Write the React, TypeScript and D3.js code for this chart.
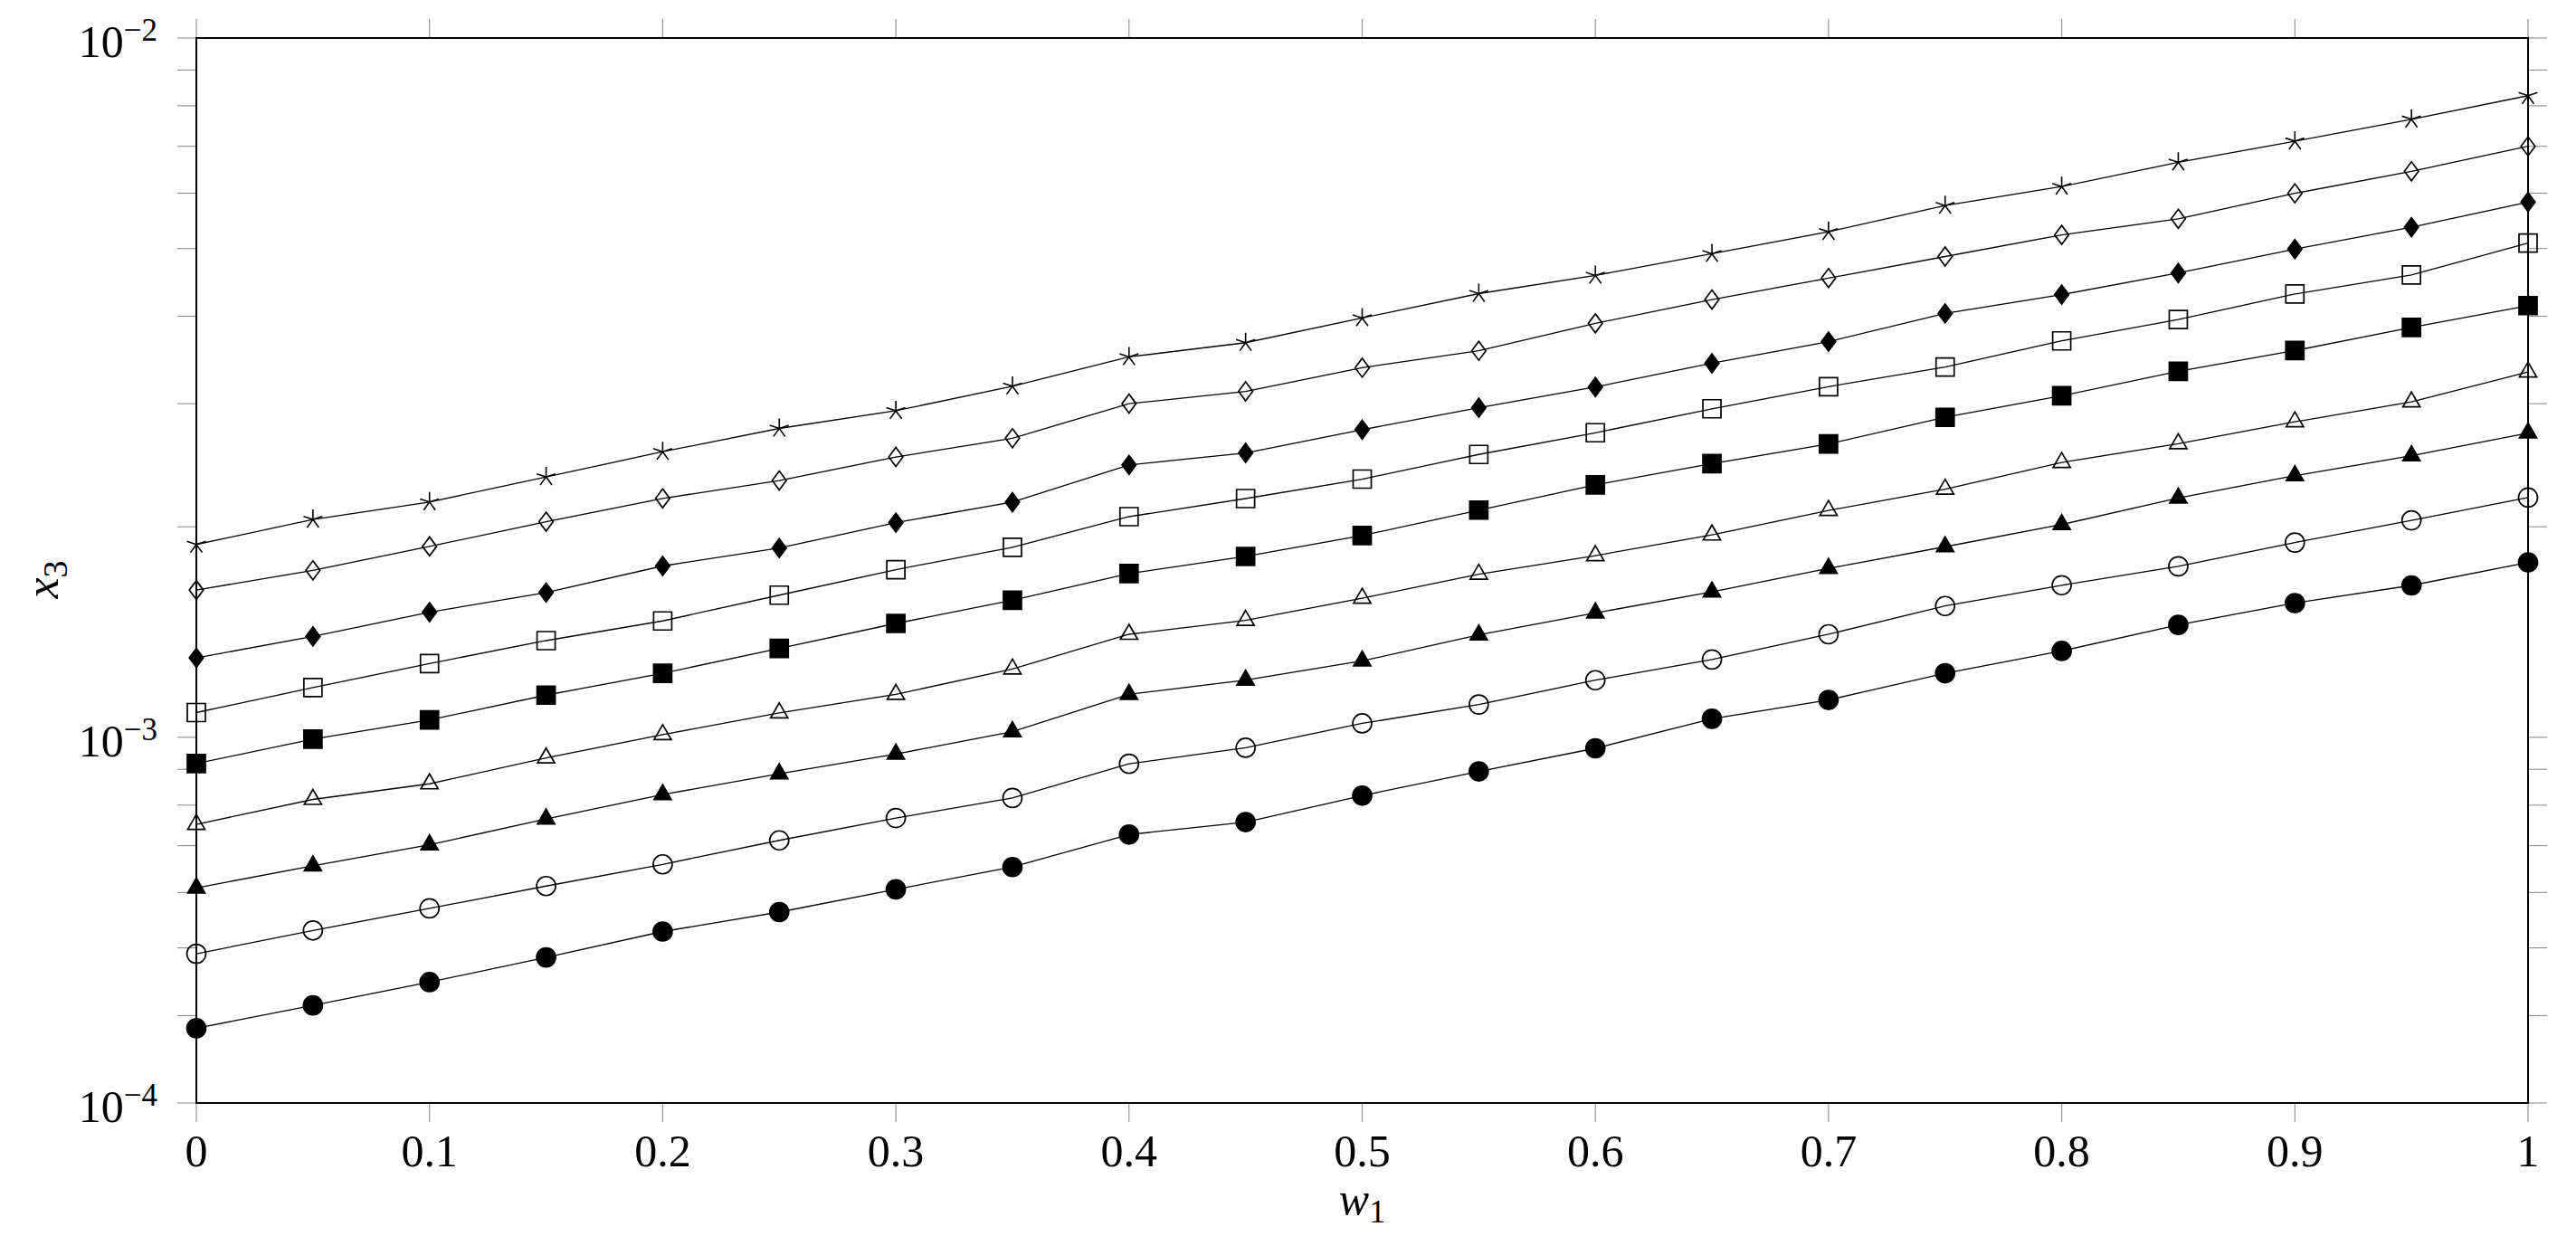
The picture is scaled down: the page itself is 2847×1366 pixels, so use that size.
import React from "react";
import * as d3 from "d3";

// w1 sample points (x axis)
const w1 = [0, 0.05, 0.1, 0.15, 0.2, 0.25, 0.3, 0.35, 0.4, 0.45, 0.5, 0.55, 0.6, 0.65, 0.7, 0.75, 0.8, 0.85, 0.9, 0.95, 1];

// x3 values per curve (top curve first)
const starVals = [1.887e-3, 2.049e-3, 2.17e-3, 2.357e-3, 2.561e-3, 2.765e-3, 2.931e-3, 3.177e-3, 3.499e-3, 3.667e-3, 3.978e-3, 4.31e-3, 4.576e-3, 4.914e-3, 5.284e-3, 5.759e-3, 6.132e-3, 6.643e-3, 7.12e-3, 7.653e-3, 8.27e-3];
const diamondVals = [1.624e-3, 1.733e-3, 1.875e-3, 2.034e-3, 2.196e-3, 2.329e-3, 2.517e-3, 2.677e-3, 3.0e-3, 3.124e-3, 3.377e-3, 3.571e-3, 3.908e-3, 4.226e-3, 4.536e-3, 4.87e-3, 5.229e-3, 5.514e-3, 5.996e-3, 6.447e-3, 7.001e-3];
const diamondFillVals = [1.299e-3, 1.394e-3, 1.51e-3, 1.611e-3, 1.758e-3, 1.865e-3, 2.028e-3, 2.169e-3, 2.452e-3, 2.551e-3, 2.754e-3, 2.96e-3, 3.169e-3, 3.427e-3, 3.68e-3, 4.038e-3, 4.296e-3, 4.613e-3, 4.991e-3, 5.364e-3, 5.827e-3];
const squareVals = [1.085e-3, 1.178e-3, 1.275e-3, 1.375e-3, 1.467e-3, 1.597e-3, 1.737e-3, 1.87e-3, 2.068e-3, 2.195e-3, 2.34e-3, 2.538e-3, 2.726e-3, 2.95e-3, 3.173e-3, 3.384e-3, 3.689e-3, 3.957e-3, 4.304e-3, 4.584e-3, 5.09e-3];
const squareFillVals = [9.173e-4, 9.94e-4, 1.059e-3, 1.149e-3, 1.235e-3, 1.34e-3, 1.455e-3, 1.57e-3, 1.715e-3, 1.814e-3, 1.943e-3, 2.113e-3, 2.296e-3, 2.462e-3, 2.627e-3, 2.868e-3, 3.079e-3, 3.337e-3, 3.573e-3, 3.855e-3, 4.143e-3];
const triangleVals = [7.507e-4, 8.151e-4, 8.581e-4, 9.342e-4, 1.009e-3, 1.084e-3, 1.152e-3, 1.252e-3, 1.404e-3, 1.47e-3, 1.581e-3, 1.711e-3, 1.819e-3, 1.947e-3, 2.111e-3, 2.264e-3, 2.472e-3, 2.63e-3, 2.826e-3, 3.017e-3, 3.329e-3];
const triangleFillVals = [6.091e-4, 6.551e-4, 7.02e-4, 7.644e-4, 8.281e-4, 8.872e-4, 9.465e-4, 1.019e-3, 1.152e-3, 1.207e-3, 1.286e-3, 1.401e-3, 1.506e-3, 1.614e-3, 1.744e-3, 1.873e-3, 2.015e-3, 2.199e-3, 2.367e-3, 2.527e-3, 2.724e-3];
const circleVals = [4.903e-4, 5.295e-4, 5.694e-4, 6.128e-4, 6.582e-4, 7.123e-4, 7.666e-4, 8.19e-4, 9.165e-4, 9.661e-4, 1.047e-3, 1.114e-3, 1.207e-3, 1.292e-3, 1.404e-3, 1.541e-3, 1.65e-3, 1.756e-3, 1.899e-3, 2.043e-3, 2.202e-3];
const circleFillVals = [3.837e-4, 4.137e-4, 4.466e-4, 4.845e-4, 5.276e-4, 5.625e-4, 6.062e-4, 6.524e-4, 7.261e-4, 7.565e-4, 8.254e-4, 8.938e-4, 9.645e-4, 1.063e-3, 1.131e-3, 1.235e-3, 1.329e-3, 1.448e-3, 1.556e-3, 1.649e-3, 1.779e-3];

const markKinds = ["star", "diamond", "diamond*", "square", "square*", "triangle", "triangle*", "circle", "circle*"];

// axis ticks
const xTicks = [0, 0.1, 0.2, 0.3, 0.4, 0.5, 0.6, 0.7, 0.8, 0.9, 1];
const xTickLabels = ["0", "0.1", "0.2", "0.3", "0.4", "0.5", "0.6", "0.7", "0.8", "0.9", "1"];
const yMajorTicks = [1e-2, 1e-3, 3e-4];
const yMajorExp = ["\u22122", "\u22123", "\u22124"];
const yMinorTicks = [9e-3, 8e-3, 7e-3, 6e-3, 5e-3, 4e-3, 3e-3, 2e-3, 9e-4, 8e-4, 7e-4, 6e-4, 5e-4, 4e-4];

const W = 2847, H = 1366;
const left = 217, right = 2794, top = 42, bottom = 1219;
const tickLen = 21;
const FONT = "'Liberation Serif', 'Times New Roman', serif";

// pgfplots-like mark shapes, centred on origin
function markPath(kind: string): string {
  const k = kind.replace("*", "");
  if (k === "circle") {
    const r = 10.5;
    return `M${-r},0A${r},${r} 0 1,0 ${r},0A${r},${r} 0 1,0 ${-r},0Z`;
  }
  if (k === "square") {
    const s = 10;
    return `M${-s},${-s}H${s}V${s}H${-s}Z`;
  }
  if (k === "diamond") {
    return `M0,-10.5L7.8,0L0,10.5L-7.8,0Z`;
  }
  if (k === "triangle") {
    const r = 11;
    const a = r * Math.cos(Math.PI / 6);
    return `M0,${-r}L${a},${r / 2}L${-a},${r / 2}Z`;
  }
  // star: five rays
  const r = 11;
  let p = "";
  for (let i = 0; i < 5; i++) {
    const ang = ((90 + 72 * i) * Math.PI) / 180;
    p += `M0,0L${(r * Math.cos(ang)).toFixed(2)},${(-r * Math.sin(ang)).toFixed(2)}`;
  }
  return p;
}

export default function App() {
  const series = [starVals, diamondVals, diamondFillVals, squareVals, squareFillVals, triangleVals, triangleFillVals, circleVals, circleFillVals];

  const x = d3.scaleLinear().domain([0, 1]).range([left, right]);
  const y = d3.scaleLog().domain([3e-4, 1e-2]).range([bottom, top]);

  const lineGen = d3
    .line<number>()
    .x((_, i) => x(w1[i]))
    .y((v) => y(v));

  const tickColor = "#8c8c8c";

  return (
    <svg width={W} height={H} style={{ position: "absolute", left: 0, top: 0, background: "#fff" }} fontFamily={FONT}>
      {/* ticks, outside the frame on all sides */}
      <g stroke={tickColor} strokeWidth={1.1}>
        {xTicks.map((t) => (
          <g key={"xt" + t}>
            <line x1={x(t)} x2={x(t)} y1={bottom} y2={bottom + tickLen} />
            <line x1={x(t)} x2={x(t)} y1={top} y2={top - tickLen} />
          </g>
        ))}
        {[...yMajorTicks, ...yMinorTicks].map((t) => (
          <g key={"yt" + t}>
            <line x1={left - tickLen} x2={left} y1={y(t)} y2={y(t)} />
            <line x1={right} x2={right + tickLen} y1={y(t)} y2={y(t)} />
          </g>
        ))}
      </g>

      {/* curves */}
      <g fill="none" stroke="#000" strokeWidth={1.3}>
        {series.map((vals, i) => (
          <path key={"l" + i} d={lineGen(vals) || ""} />
        ))}
      </g>

      {/* marks */}
      {series.map((vals, i) => {
        const kind = markKinds[i];
        const filled = kind.endsWith("*");
        const d = markPath(kind);
        return (
          <g key={"m" + i}>
            {vals.map((v, j) => (
              <path
                key={j}
                d={d}
                transform={`translate(${x(w1[j])},${y(v)})`}
                fill={filled ? "#000" : "none"}
                stroke="#000"
                strokeWidth={kind === "star" ? 1.6 : 1.7}
              />
            ))}
          </g>
        );
      })}

      {/* frame */}
      <rect x={left} y={top} width={right - left} height={bottom - top} fill="none" stroke="#000" strokeWidth={2} />

      {/* x tick labels */}
      {xTicks.map((t, i) => (
        <text key={"xl" + t} x={x(t)} y={bottom + 70} textAnchor="middle" fontSize={50}>
          {xTickLabels[i]}
        </text>
      ))}

      {/* y tick labels */}
      {yMajorTicks.map((t, i) => (
        <text key={"yl" + t} x={174} y={y(t) + 21} textAnchor="end" fontSize={50}>
          10
          <tspan dy={-18} fontSize={35}>
            {yMajorExp[i]}
          </tspan>
        </text>
      ))}

      {/* axis labels */}
      <text x={(left + right) / 2} y={1342} textAnchor="middle" fontSize={50}>
        <tspan fontStyle="italic">w</tspan>
        <tspan dy={9} fontSize={36}>1</tspan>
      </text>
      <text transform={`translate(64,${(top + bottom) / 2 + 10}) rotate(-90)`} textAnchor="middle" fontSize={52}>
        <tspan fontStyle="italic">x</tspan>
        <tspan dy={10} fontSize={38}>3</tspan>
      </text>
    </svg>
  );
}
